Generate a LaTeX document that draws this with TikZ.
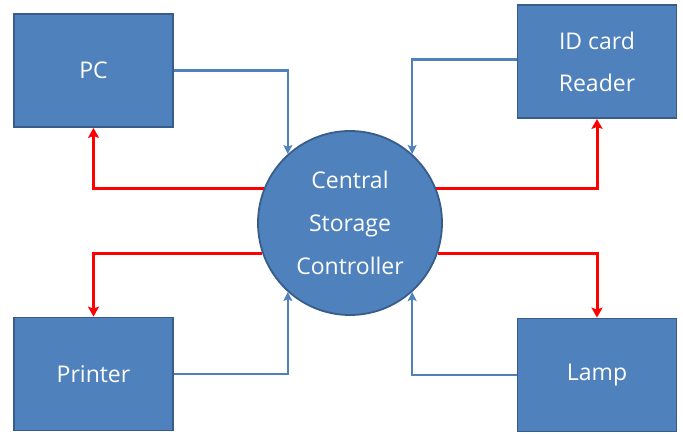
\documentclass[tikz,border=0pt]{standalone}
\usepackage{fontspec}
\setmainfont{Open Sans}
\usetikzlibrary{arrows.meta}
\definecolor{boxfill}{RGB}{79,129,189}
\definecolor{boxedge}{RGB}{56,93,138}
\definecolor{inline}{RGB}{79,129,189}
\definecolor{outline}{RGB}{255,0,0}
\tikzset{
  unit/.style={rectangle, fill=boxfill, draw=boxedge, line width=1.8pt,
    minimum width=159pt, minimum height=113pt, text=white,
    font=\fontsize{23pt}{42pt}\selectfont, align=center, inner sep=0pt},
  hub/.style={circle, fill=boxfill, draw=boxedge, line width=1.8pt,
    minimum size=184pt, text=white,
    font=\fontsize{23pt}{43pt}\selectfont, align=center, inner sep=0pt},
  inflow/.style={draw=inline, line width=2.6pt,
    -{Stealth[length=9pt,width=9pt,inset=2pt]}},
  outflow/.style={draw=outline, line width=3pt,
    -{Stealth[length=10pt,width=11pt,inset=2pt]}}
}
\begin{document}
\begin{tikzpicture}[x=1pt,y=-1pt]
  \fill[white] (0,0) rectangle (683,434);
  \useasboundingbox (0,0) rectangle (683,434);

  \node[unit] (pc) at (93.5,70.5) {PC};
  \node[unit] (id) at (597,61.5) {ID card\\Reader};
  \node[unit] (pr) at (93.5,374) {Printer};
  \node[unit] (lamp) at (597,375) {Lamp};
  \node[hub] (csc) at (350,223) {Central\\Storage\\Controller};

  % requests flowing into the controller
  \draw[inflow] (pc.east) -| (csc.132);
  \draw[inflow] ([yshift=2pt]id.west) -| (csc.48);
  \draw[inflow] (pr.east) -| (csc.228);
  \draw[inflow] (lamp.west) -| (csc.312);

  % responses flowing out of the controller
  \draw[outflow] (csc.158) -| (pc.south);
  \draw[outflow] (csc.22) -| (id.south);
  \draw[outflow] (csc.199) -| (pr.north);
  \draw[outflow] (csc.341) -| (lamp.north);
\end{tikzpicture}
\end{document}
